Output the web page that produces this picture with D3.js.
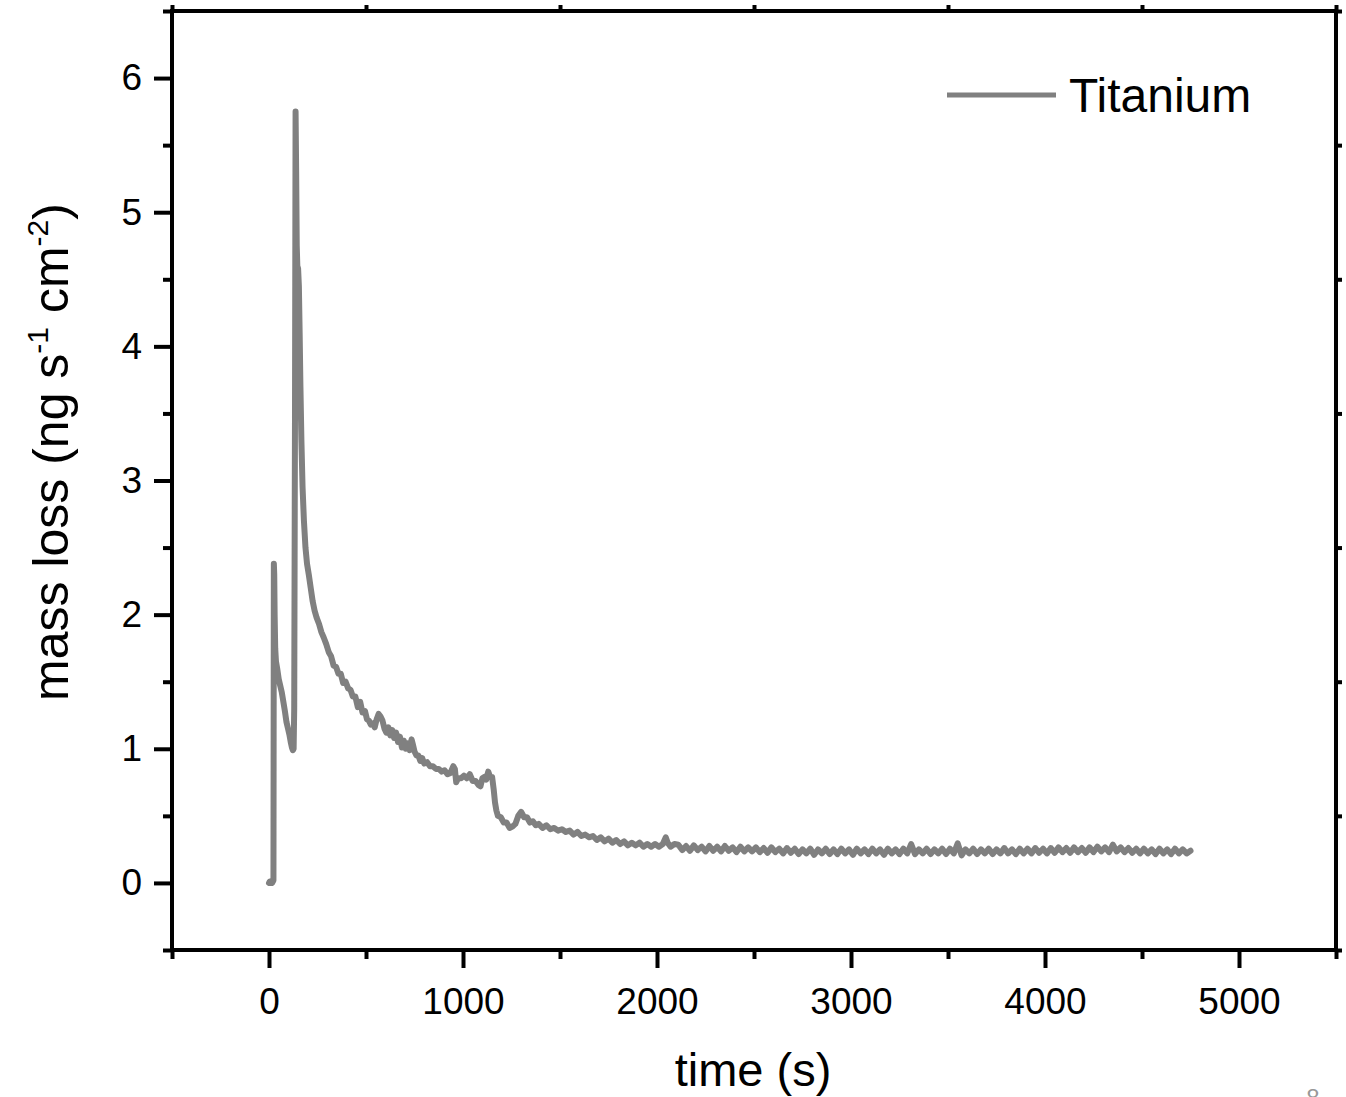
<!DOCTYPE html>
<html>
<head>
<meta charset="utf-8">
<script src="https://cdn.jsdelivr.net/npm/d3@7"></script>
<style>
  html, body { margin: 0; padding: 0; background: #fff; }
  svg { display: block; }
  text { font-family: "Liberation Sans", Arial, sans-serif; fill: #000; }
</style>
</head>
<body>
<svg id="chart" width="1346" height="1097"></svg>
<script>
// ---- data ----
const seriesName = "Titanium";
const time = [
  0,4,8,12,16,20,23,25,27,29,32,36,42,50,58,66,74,82,90,98,106,112,118,123,127,130,134,137,140,143,146,150,154,158,162,167,173,180,188,196,205,215,225,235,245,258,270,282,
  295,308,320,333,346,358,370,382,395,408,420,432,445,458,470,482,495,505,515,525,535,545,555,565,575,585,595,605,615,625,635,645,655,665,675,685,695,705,715,725,735,742,750,760,770,780,790,800,815,830,845,860,875,890,905,920,935,950,958,965,975,990,1005,1020,1035,1050,1065,1080,1090,1100,1110,1120,1130,1140,1150,
  1158,1165,1172,1180,1195,1210,1225,1240,1255,1270,1285,1300,1315,1330,1345,1360,1375,1390,1410,1430,1450,1470,1490,1510,1530,1550,1570,1590,1610,1630,1650,1670,1690,1710,1730,1750,1770,1790,1810,1830,1850,1870,1890,1910,1930,1950,1970,1990,2010,2030,2045,2055,2070,2090,
  2110,2130,2150,2170,2190,2210,2230,2250,2270,2290,
  2310,2330,2350,2370,2390,2410,2430,2450,2470,2490,
  2510,2530,2550,2570,2590,2610,2630,2650,2670,2690,
  2710,2730,2750,2770,2790,2810,2830,2850,2870,2890,
  2910,2930,2950,2970,2990,3010,3030,3050,3070,3090,
  3110,3130,3150,3170,3190,3210,3230,3250,3270,3290,
  3310,3330,3350,3370,3390,3410,3430,3450,3470,3490,
  3510,3530,3550,3570,3590,3610,3630,3650,3670,3690,
  3710,3730,3750,3770,3790,3810,3830,3850,3870,3890,
  3910,3930,3950,3970,3990,4010,4030,4050,4070,4090,
  4110,4130,4150,4170,4190,4210,4230,4250,4270,4290,
  4310,4330,4350,4370,4390,4410,4430,4450,4470,4490,
  4510,4530,4550,4570,4590,4610,4630,4650,4670,4690,
  4710,4730,4750
];
const massLoss = [
  0,0.01,0,0.01,0,0.01,0.02,2.38,2.3,2.0,1.75,1.65,1.6,1.52,1.47,1.42,1.35,1.28,1.2,1.15,1.1,1.05,1.01,0.99,1.0,1.3,3.5,5.75,5.3,4.75,4.6,4.58,4.45,4.1,3.7,3.3,2.95,2.7,2.5,2.38,2.3,2.2,2.1,2.03,1.98,1.93,1.87,1.83,
  1.78,1.72,1.69,1.62,1.61,1.56,1.56,1.49,1.5,1.45,1.44,1.39,1.39,1.31,1.35,1.27,1.28,1.22,1.21,1.18,1.19,1.16,1.22,1.26,1.24,1.21,1.15,1.12,1.16,1.1,1.14,1.08,1.12,1.05,1.09,1.01,1.06,1.0,1.04,0.99,1.07,1.03,0.98,0.95,0.95,0.91,0.93,0.89,0.9,0.87,0.87,0.85,0.85,0.83,0.84,0.81,0.82,0.87,0.85,0.75,0.78,0.78,0.8,0.78,0.81,0.76,0.76,0.73,0.72,0.78,0.79,0.77,0.83,0.79,0.79,
  0.7,0.6,0.54,0.5,0.49,0.45,0.45,0.41,0.42,0.44,0.5,0.53,0.49,0.49,0.45,0.46,0.43,0.44,0.41,0.43,0.4,0.41,0.39,0.4,0.38,0.39,0.36,0.38,0.35,0.36,0.34,0.35,0.32,0.34,0.31,0.33,0.3,0.32,0.29,0.31,0.28,0.3,0.28,0.3,0.27,0.29,0.27,0.29,0.27,0.29,0.34,0.3,0.27,0.29,
  0.285,0.245,0.275,0.24,0.28,0.245,0.27,0.235,0.275,0.24,
  0.27,0.235,0.275,0.24,0.265,0.23,0.27,0.235,0.265,0.235,
  0.265,0.23,0.26,0.225,0.265,0.23,0.255,0.22,0.26,0.225,
  0.255,0.215,0.25,0.22,0.255,0.21,0.25,0.22,0.255,0.215,
  0.25,0.215,0.255,0.22,0.25,0.21,0.255,0.22,0.25,0.215,
  0.255,0.22,0.25,0.21,0.255,0.22,0.25,0.215,0.255,0.22,
  0.29,0.215,0.25,0.22,0.255,0.215,0.25,0.22,0.255,0.215,
  0.255,0.22,0.295,0.205,0.25,0.22,0.255,0.215,0.25,0.22,
  0.255,0.215,0.25,0.22,0.26,0.22,0.25,0.215,0.255,0.22,
  0.255,0.22,0.26,0.225,0.255,0.22,0.26,0.225,0.265,0.23,
  0.26,0.225,0.265,0.23,0.26,0.225,0.265,0.23,0.27,0.235,
  0.265,0.23,0.285,0.235,0.265,0.23,0.26,0.225,0.255,0.22,
  0.255,0.22,0.25,0.215,0.255,0.22,0.25,0.215,0.255,0.22,
  0.25,0.22,0.24
];
const xTickValues = [0, 1000, 2000, 3000, 4000, 5000];
const xMinorValues = [-500, 500, 1500, 2500, 3500, 4500, 5500];
const yTickValues = [0, 1, 2, 3, 4, 5, 6];
const yMinorValues = [-0.5, 0.5, 1.5, 2.5, 3.5, 4.5, 5.5, 6.5];
const xDomain = [-500, 5500];
const yDomain = [-0.5, 6.5];

// ---- layout ----
const svg = d3.select("#chart");
const L = 172, R = 1336, T = 11, B = 950;
const x = d3.scaleLinear().domain(xDomain).range([L, R]);
const y = d3.scaleLinear().domain(yDomain).range([B, T]);
const axisW = 4;
const FONT = '"Liberation Sans", Arial, Helvetica, sans-serif';

function styleAxis(g) {
  g.attr("font-family", FONT);
  g.select(".domain").remove();
  g.selectAll(".tick line").attr("stroke", "#000").attr("stroke-width", axisW);
  g.selectAll(".tick text").style("font-family", FONT).attr("fill", "#000");
}

// bottom axis: major ticks with labels
const gxb = svg.append("g").attr("transform", `translate(0,${B})`)
  .call(d3.axisBottom(x).tickValues(xTickValues).tickSize(18).tickPadding(20).tickFormat(d3.format("d")));
styleAxis(gxb);
gxb.selectAll(".tick text").style("font-size", "37px");
svg.append("g").attr("transform", `translate(0,${B})`)
  .call(d3.axisBottom(x).tickValues(xMinorValues).tickSize(9).tickFormat(""))
  .call(styleAxis);
// top ticks (outward)
svg.append("g").attr("transform", `translate(0,${T})`)
  .call(d3.axisTop(x).tickValues(xMinorValues).tickSize(6).tickFormat(""))
  .call(styleAxis);

// left axis
const gyl = svg.append("g").attr("transform", `translate(${L},0)`)
  .call(d3.axisLeft(y).tickValues(yTickValues).tickSize(18).tickPadding(12).tickFormat(d3.format("d")));
styleAxis(gyl);
gyl.selectAll(".tick text").style("font-size", "37px");
svg.append("g").attr("transform", `translate(${L},0)`)
  .call(d3.axisLeft(y).tickValues(yMinorValues).tickSize(9).tickFormat(""))
  .call(styleAxis);
// right ticks (outward)
svg.append("g").attr("transform", `translate(${R},0)`)
  .call(d3.axisRight(y).tickValues(yMinorValues).tickSize(6).tickFormat(""))
  .call(styleAxis);

// frame
svg.append("rect").attr("x", L).attr("y", T).attr("width", R - L).attr("height", B - T)
  .attr("fill", "none").attr("stroke", "#000").attr("stroke-width", axisW);

// data line
const pts = time.map((t, i) => [t, massLoss[i]]);
const line = d3.line().x(d => x(d[0])).y(d => y(d[1]));
svg.append("path").datum(pts).attr("d", line)
  .attr("fill", "none").attr("stroke", "#808080").attr("stroke-width", 6)
  .attr("stroke-linejoin", "round").attr("stroke-linecap", "round");

// legend
svg.append("line").attr("x1", 947).attr("x2", 1056).attr("y1", 95).attr("y2", 95)
  .attr("stroke", "#808080").attr("stroke-width", 5);
svg.append("text").attr("x", 1069).attr("y", 112).style("font-family", FONT).style("font-size", "48px").text(seriesName);

// axis titles
svg.append("text").attr("x", (L + R) / 2 - 1).attr("y", 1086).attr("text-anchor", "middle")
  .style("font-family", FONT).style("font-size", "47px").text("time (s)");

const yt = svg.append("text").attr("transform", `translate(68,452) rotate(-90)`)
  .attr("text-anchor", "middle").style("font-family", FONT).style("font-size", "50px");
yt.append("tspan").text("mass loss (ng s");
yt.append("tspan").attr("dy", -20).style("font-size", "30px").text("-1");
yt.append("tspan").attr("dy", 20).text(" cm");
yt.append("tspan").attr("dy", -20).style("font-size", "30px").text("-2");
yt.append("tspan").attr("dy", 20).text(")");

// page number fragment (cut by the bottom edge, as in the reference)
svg.append("text").attr("x", 1313).attr("y", 1106).attr("text-anchor", "middle")
  .style("font-family", FONT).style("font-size", "24px").style("fill", "#999").text("8");
</script>
</body>
</html>
